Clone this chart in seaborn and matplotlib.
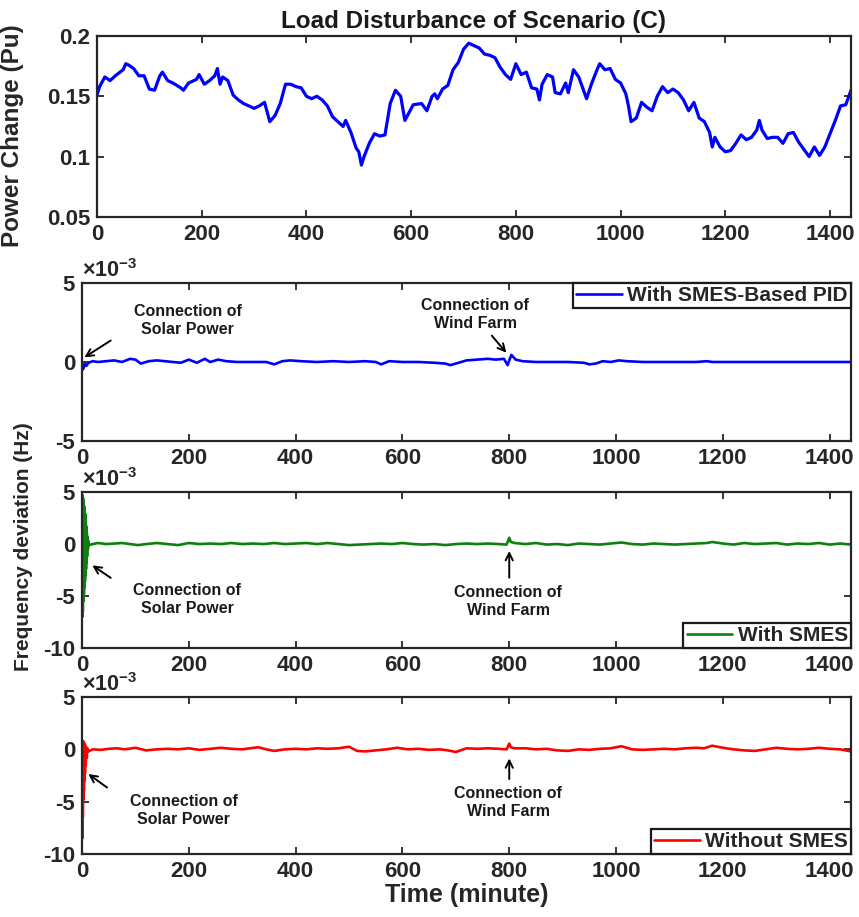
import numpy as np
import matplotlib
matplotlib.use("Agg")
import matplotlib.pyplot as plt
import seaborn as sns
from matplotlib.ticker import FuncFormatter

# ---- data ----
# top panel: load disturbance (pu) vs time (minute)
load_t = [0, 5, 15, 25, 35, 50, 55, 60, 70, 80,
          90, 100, 110, 120, 125, 135, 145, 160, 165, 175,
          190, 195, 205, 215, 225, 230, 235, 240, 250, 260,
          270, 280, 290, 300, 310, 320, 330, 340, 350, 360,
          370, 380, 390, 400, 410, 420, 430, 440, 450, 460,
          470, 475, 485, 495, 500, 505, 510, 520, 530, 540,
          550, 560, 570, 580, 588, 604, 620, 630, 640, 645,
          650, 660, 670, 680, 690, 700, 710, 720, 730, 740,
          750, 760, 770, 780, 790, 800, 810, 820, 830, 840,
          845, 850, 860, 870, 875, 885, 895, 900, 910, 920,
          925, 935, 945, 955, 960, 970, 980, 990, 1000, 1010,
          1015, 1020, 1030, 1040, 1050, 1060, 1070, 1080, 1090, 1100,
          1110, 1120, 1130, 1140, 1150, 1160, 1170, 1175, 1180, 1190,
          1200, 1210, 1220, 1230, 1240, 1250, 1260, 1265, 1270, 1280,
          1290, 1300, 1310, 1320, 1330, 1340, 1350, 1360, 1370, 1380,
          1390, 1400, 1410, 1420, 1430, 1440]
load_v = [0.151, 0.158, 0.166, 0.163, 0.167, 0.172, 0.177, 0.176, 0.173, 0.167,
          0.167, 0.156, 0.155, 0.167, 0.170, 0.163, 0.161, 0.157, 0.155, 0.161,
          0.164, 0.168, 0.160, 0.163, 0.167, 0.173, 0.160, 0.166, 0.163, 0.151,
          0.147, 0.144, 0.142, 0.140, 0.142, 0.145, 0.129, 0.134, 0.144, 0.160,
          0.160, 0.158, 0.157, 0.150, 0.148, 0.150, 0.147, 0.142, 0.133, 0.129,
          0.125, 0.130, 0.120, 0.107, 0.104, 0.093, 0.100, 0.111, 0.119, 0.117,
          0.118, 0.144, 0.155, 0.150, 0.130, 0.143, 0.144, 0.138, 0.150, 0.152,
          0.148, 0.156, 0.159, 0.172, 0.178, 0.189, 0.194, 0.192, 0.190, 0.185,
          0.184, 0.182, 0.174, 0.168, 0.164, 0.177, 0.168, 0.170, 0.157, 0.156,
          0.147, 0.160, 0.168, 0.166, 0.153, 0.152, 0.161, 0.153, 0.172, 0.166,
          0.160, 0.148, 0.161, 0.172, 0.177, 0.172, 0.173, 0.164, 0.161, 0.152,
          0.142, 0.129, 0.132, 0.145, 0.141, 0.138, 0.150, 0.158, 0.153, 0.156,
          0.153, 0.147, 0.138, 0.145, 0.132, 0.129, 0.120, 0.108, 0.116, 0.108,
          0.104, 0.105, 0.111, 0.118, 0.114, 0.116, 0.122, 0.130, 0.122, 0.115,
          0.116, 0.116, 0.111, 0.119, 0.120, 0.112, 0.106, 0.100, 0.108, 0.101,
          0.108, 0.119, 0.130, 0.142, 0.143, 0.155]

# frequency deviations, in units of 1e-3 Hz
pid_t = [0, 1, 2, 3, 5, 8, 12,
         20, 30, 45, 60, 75, 90, 100, 110, 125, 140,
         155, 170, 185, 200, 215, 230, 240, 255, 270, 290,
         320, 345, 360, 375, 390, 410, 440, 470, 500, 530,
         550, 560, 575, 600, 630, 660, 680, 690, 705, 720,
         740, 760, 775, 790, 797, 800, 804, 812, 825, 850,
         880, 910, 940, 950, 962, 975, 990, 1005, 1020, 1050,
         1100, 1150, 1170, 1180, 1200, 1250, 1300, 1350, 1400, 1440]
pid_v = [-0.5, -0.3, -0.45, -0.35, -0.1, -0.25, -0.05,
         0.05, 0.0, 0.05, 0.1, 0.0, 0.2, 0.15, -0.1, 0.05, 0.1,
         0.05, 0.0, -0.05, 0.15, -0.05, 0.2, 0.0, 0.15, 0.05, 0.0,
         0.0, 0.0, -0.15, 0.05, 0.1, 0.05, 0.0, 0.05, 0.0, 0.05,
         0.0, -0.15, 0.05, 0.0, 0.0, -0.05, -0.1, -0.2, -0.05, 0.1,
         0.15, 0.2, 0.15, 0.2, -0.2, 0.1, 0.45, 0.15, 0.05, 0.0,
         0.0, 0.0, -0.05, -0.15, -0.1, 0.05, 0.0, 0.1, 0.05, 0.0,
         0.0, 0.0, 0.05, 0.0, 0.0, 0.0, 0.0, 0.0, 0.0, 0.0]

smes_t = [0, 0.5, 1, 1.5, 2, 2.5, 3, 3.5, 4, 4.5, 5, 5.5,
          6, 6.5, 7, 7.5, 8, 8.5, 9, 9.5, 10, 11, 12, 13,
          20, 30, 45, 60, 75, 90, 105,
          120, 140, 160, 180, 200, 220, 240, 260, 280, 300,
          320, 340, 360, 380, 400, 420, 440, 460, 480, 500,
          520, 540, 560, 580, 600, 620, 640, 660, 680, 700,
          720, 740, 760, 780,
          795, 800, 803, 810,
          830, 850, 870, 890, 910, 930, 950, 970, 990, 1010,
          1030, 1050, 1070, 1090, 1110, 1130, 1150, 1170,
          1180,
          1200, 1220, 1240, 1260, 1280, 1300, 1320, 1340, 1360, 1380, 1400, 1420, 1440]
smes_v = [0, -7.0, 4.7, -6.5, 4.4, -5.5, 4.0, -4.8, 3.6, -4.2, 3.5, -3.6,
          2.9, -3.0, 2.3, -2.4, 1.7, -1.8, 1.1, -1.2, 0.7, -0.5, 0.3, -0.1,
          0.0, 0.1, 0.0, 0.05, 0.1, 0.0, -0.1,
          0.0, 0.1, 0.0, -0.1, 0.1, 0.0, 0.05, 0.0, 0.1, 0.0,
          0.05, 0.0, 0.1, 0.0, 0.05, 0.1, 0.0, 0.1, 0.0, -0.1,
          -0.05, 0.0, 0.05, 0.0, 0.1, 0.0, -0.05, 0.0, -0.1, 0.0,
          0.05, 0.0, 0.05, 0.0,
          -0.05, 0.6, 0.2, 0.1,
          0.0, 0.1, -0.05, 0.0, -0.1, 0.05, 0.0, -0.05, 0.05, 0.15,
          0.0, -0.05, 0.05, 0.0, -0.05, 0.0, 0.05, 0.1,
          0.2,
          0.05, -0.05, 0.1, 0.0, 0.05, 0.1, -0.05, 0.05, 0.0, 0.1, -0.05, 0.05, -0.05]

nosmes_t = [0, 0.5, 1, 1.5, 2, 2.5, 3, 3.5, 4, 4.5, 5, 5.5, 6, 7, 8, 9, 10, 12,
            20, 35, 50, 65, 80, 100, 120, 140, 160, 180,
            200, 220, 240, 260, 280, 300, 315, 330, 345, 360,
            380, 400, 420, 440, 460, 480, 500, 515, 530, 550,
            570, 590, 610, 630, 650, 670, 685, 700, 720, 740,
            760, 780, 795, 800, 803, 810, 830, 850, 870, 890,
            910, 930, 950, 970, 990, 1010, 1030, 1050, 1070, 1090,
            1110, 1130, 1150, 1165, 1180, 1200, 1220, 1240, 1260, 1280,
            1300, 1320, 1340, 1360, 1380, 1400, 1420, 1440]
nosmes_v = [0, -8.5, 0.8, -6.5, 0.8, -4.8, 0.7, -4.0, 0.6, -3.0, 0.5, -2.3, 0.4, -1.5, 0.2, -0.8, 0.1, -0.2,
            0.0, -0.05, 0.05, 0.1, 0.0, 0.15, -0.1, 0.0, 0.05, 0.0,
            0.1, -0.05, 0.05, 0.15, 0.05, 0.0, 0.1, 0.2, 0.0, -0.15,
            0.0, 0.05, 0.0, 0.1, 0.05, 0.1, 0.25, -0.15, -0.2, -0.1,
            0.0, 0.15, 0.0, 0.05, -0.05, 0.0, -0.1, -0.25, 0.1, 0.05,
            0.1, 0.05, 0.0, 0.55, 0.2, 0.1, 0.1, 0.0, 0.05, -0.1,
            -0.15, 0.0, -0.05, 0.05, 0.1, 0.3, 0.0, -0.05, 0.0, 0.05,
            0.0, 0.1, 0.15, 0.1, 0.35, 0.15, 0.0, -0.1, -0.15, 0.0,
            0.15, 0.05, 0.0, 0.05, 0.15, 0.05, 0.0, -0.2]

x_ticks = [0, 200, 400, 600, 800, 1000, 1200, 1400]

# ---- style ----
sns.set_style("ticks")
plt.rcParams["font.family"] = ["Liberation Sans", "DejaVu Sans"]
plt.rcParams["font.weight"] = "bold"
plt.rcParams["axes.unicode_minus"] = False
plt.rcParams["mathtext.fontset"] = "custom"
plt.rcParams["mathtext.rm"] = "Liberation Sans"

fig = plt.figure(figsize=(8.59, 9.17), dpi=100)
ax0 = fig.add_axes([0.1129, 0.7634, 0.8778, 0.1974])
ax1 = fig.add_axes([0.0955, 0.5191, 0.8952, 0.1723])
ax2 = fig.add_axes([0.0955, 0.2933, 0.8952, 0.1701])
ax3 = fig.add_axes([0.0955, 0.0687, 0.8952, 0.1712])

TICK = 16


def style(ax):
    for s in ax.spines.values():
        s.set_linewidth(1.6)
        s.set_color("#262626")
    ax.tick_params(direction="in", top=True, right=True, length=5, width=1.3,
                   labelsize=TICK, pad=5, color="#262626", labelcolor="#262626")
    ax.set_xlim(0, 1440)
    ax.set_xticks(x_ticks)
    ax.set_xlabel("")
    ax.set_ylabel("")


# top panel
sns.lineplot(x=load_t, y=load_v, ax=ax0, color="blue", linewidth=2.3, estimator=None)
style(ax0)
ax0.set_ylim(0.05, 0.2)
ax0.set_yticks([0.05, 0.1, 0.15, 0.2])
ax0.set_yticklabels(["0.05", "0.1", "0.15", "0.2"])
ax0.set_title("Load Disturbance of Scenario (C)", fontsize=17.5, fontweight="bold",
              pad=6, color="#1a1a1a")
ax0.set_ylabel("Power Change (Pu)", fontsize=17.5, fontweight="bold", color="#262626")
ax0.yaxis.set_label_coords(-0.097, 0.45)

series = [
    (ax1, pid_t, pid_v, "blue", "With SMES-Based PID", "upper right"),
    (ax2, smes_t, smes_v, "#0c800c", "With SMES", "lower right"),
    (ax3, nosmes_t, nosmes_v, "red", "Without SMES", "lower right"),
]
for ax, t, v, col, lab, loc in series:
    sns.lineplot(x=t, y=np.array(v) * 1e-3, ax=ax, color=col, linewidth=1.9,
                 estimator=None, label=lab)
    style(ax)
    ax.yaxis.set_major_formatter(FuncFormatter(lambda y, p: f"{y * 1e3:g}"))
    ax.text(0.0, 1.005, r"$\times10^{-3}$", transform=ax.transAxes, ha="left",
            va="bottom", fontsize=15.5, fontweight="normal", color="#262626")
    leg = ax.legend(loc=loc, borderaxespad=0, fancybox=False, framealpha=1,
                    edgecolor="#1a1a1a", prop={"weight": "bold", "size": 15},
                    handlelength=2.2, borderpad=0.15, handletextpad=0.25)
    leg.get_frame().set_linewidth(1.6)

ax1.set_ylim(-5e-3, 5e-3)
ax1.set_yticks([-5e-3, 0, 5e-3])
for ax in (ax2, ax3):
    ax.set_ylim(-10e-3, 5e-3)
    ax.set_yticks([-10e-3, -5e-3, 0, 5e-3])


def note(ax, txt, txt_xy, tail, head):
    ax.text(txt_xy[0], txt_xy[1] * 1e-3, txt, ha="center", va="center",
            fontsize=11.5, fontweight="bold", linespacing=1.25, color="#1a1a1a")
    ax.annotate("", xy=(head[0], head[1] * 1e-3), xytext=(tail[0], tail[1] * 1e-3),
                arrowprops=dict(arrowstyle="->", color="black", lw=1.4, mutation_scale=13))


note(ax1, "Connection of\nSolar Power", (198, 2.6), (58, 1.45), (0, 0.2))
note(ax1, "Connection of\nWind Farm", (736, 3.0), (764, 1.8), (798, 0.45))
note(ax2, "Connection of\nSolar Power", (197, -5.3), (58, -3.4), (15, -1.9))
note(ax2, "Connection of\nWind Farm", (798, -5.5), (800, -3.5), (800, -0.4))
note(ax3, "Connection of\nSolar Power", (190, -5.8), (51, -3.8), (7.5, -2.2))
note(ax3, "Connection of\nWind Farm", (798, -5.1), (800, -3.1), (800, -0.6))

fig.text(0.027, 0.4035, "Frequency deviation (Hz)", rotation=90, ha="center", va="center",
         fontsize=15, fontweight="bold", color="#262626")
ax3.set_xlabel("Time (minute)", fontsize=18, fontweight="bold", labelpad=1, color="#262626")

fig.savefig("out.png", dpi=100)
